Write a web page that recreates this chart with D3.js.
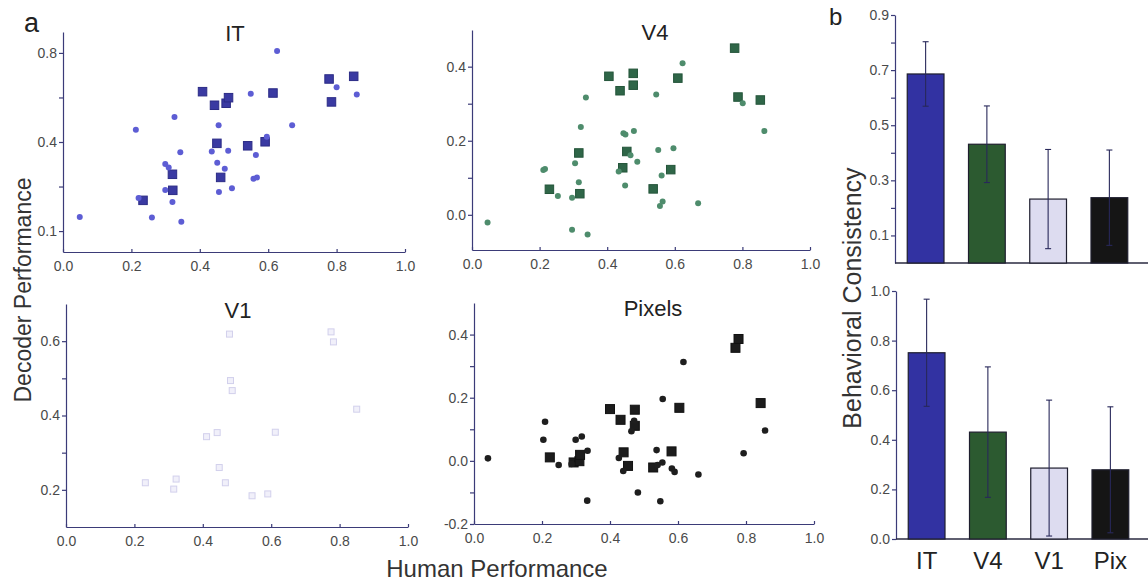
<!DOCTYPE html>
<html>
<head>
  <meta charset="UTF-8">
  <title>Decoder vs Human Performance</title>
  <style>
    body { margin: 0; background: #fff; }
    svg { font-family: "Liberation Sans", Arial, sans-serif; }
    .axis path, .axis line { stroke: #3b3b78; stroke-width: 1.2px; }
    .axis text { fill: #4a4a4a; font-size: 14px; }
    .barlabels text { fill: #222; font-size: 24px; }
  </style>
</head>
<body>
  <script src="https://d3js.org/d3.v7.min.js"></script>
  <script>
    // scatter panels: [human performance, decoder performance]
    const xTicks = [0, 0.2, 0.4, 0.6, 0.8, 1.0];

    const itDots = [[0.049,0.063],[0.213,0.455],[0.221,0.148],[0.260,0.061],[0.299,0.301],[0.309,0.286],
      [0.299,0.184],[0.320,0.130],[0.326,0.512],[0.343,0.354],[0.346,0.042],[0.435,0.357],[0.451,0.307],
      [0.455,0.475],[0.456,0.175],[0.473,0.280],[0.483,0.361],[0.494,0.192],[0.549,0.617],[0.557,0.235],
      [0.567,0.241],[0.564,0.342],[0.596,0.424],[0.626,0.809],[0.670,0.475],[0.800,0.646],[0.859,0.613]];
    const itSquares = [[0.234,0.138],[0.320,0.255],[0.321,0.183],[0.408,0.626],[0.443,0.565],[0.450,0.394],
      [0.461,0.241],[0.477,0.574],[0.484,0.599],[0.540,0.383],[0.591,0.401],[0.614,0.620],[0.778,0.683],
      [0.785,0.580],[0.850,0.695]];
    const itYTicks = [0, 0.2, 0.4, 0.6, 0.8];
    const itYLabels = ["0.1", "", "0.4", "", "0.8"];

    const v4Dots = [[0.046,-0.021],[0.211,0.121],[0.216,0.124],[0.254,0.051],[0.296,-0.040],[0.296,0.046],
      [0.305,0.139],[0.316,0.088],[0.322,0.237],[0.337,0.317],[0.342,-0.053],[0.434,0.117],[0.448,0.220],
      [0.454,0.217],[0.453,0.079],[0.469,0.161],[0.479,0.226],[0.489,0.143],[0.545,0.325],[0.551,0.175],
      [0.561,0.106],[0.556,0.024],[0.564,0.036],[0.596,0.180],[0.623,0.409],[0.669,0.031],[0.801,0.301],
      [0.865,0.226]];
    const v4Squares = [[0.229,0.069],[0.316,0.167],[0.319,0.057],[0.405,0.374],[0.438,0.335],[0.446,0.127],
      [0.458,0.171],[0.477,0.382],[0.477,0.350],[0.536,0.070],[0.588,0.122],[0.609,0.369],[0.777,0.450],
      [0.787,0.318],[0.853,0.310]];
    const v4YTicks = [0, 0.1, 0.2, 0.3, 0.4];
    const v4YLabels = ["0.0", "", "0.2", "", "0.4"];

    const v1Squares = [[0.232,0.219],[0.322,0.229],[0.315,0.202],[0.411,0.343],[0.442,0.354],[0.448,0.260],
      [0.466,0.219],[0.478,0.619],[0.481,0.494],[0.486,0.467],[0.544,0.184],[0.590,0.189],[0.612,0.355],
      [0.775,0.625],[0.782,0.598],[0.850,0.417]];
    const v1YTicks = [0.2, 0.3, 0.4, 0.5, 0.6];
    const v1YLabels = ["0.2", "", "0.4", "", "0.6"];

    const pixDots = [[0.041,0.008],[0.204,0.067],[0.209,0.124],[0.249,-0.013],[0.287,-0.010],[0.299,0.067],
      [0.317,0.077],[0.334,0.032],[0.333,-0.126],[0.426,0.009],[0.439,-0.032],[0.463,0.094],[0.471,0.127],
      [0.482,-0.100],[0.537,0.034],[0.540,-0.013],[0.554,-0.005],[0.548,-0.128],[0.555,0.196],[0.582,-0.024],
      [0.590,-0.035],[0.616,0.313],[0.660,-0.043],[0.793,0.024],[0.856,0.096]];
    const pixSquares = [[0.223,0.011],[0.293,-0.005],[0.310,-0.001],[0.312,0.019],[0.400,0.164],[0.431,0.130],
      [0.440,0.027],[0.453,-0.016],[0.473,0.162],[0.473,0.111],[0.527,-0.021],[0.581,0.030],[0.604,0.168],
      [0.769,0.358],[0.778,0.386],[0.843,0.183]];
    const pixYTicks = [-0.2, -0.1, 0, 0.1, 0.2, 0.3, 0.4];
    const pixYLabels = ["-0.2", "", "0.0", "", "0.2", "", "0.4"];

    // bar panels
    const categories = ["IT", "V4", "V1", "Pix"];
    const consistencyTop = [0.686, 0.431, 0.232, 0.237];
    const errorTop = [0.117, 0.139, 0.180, 0.173];
    const topYTicks = [0.1, 0.2, 0.3, 0.4, 0.5, 0.6, 0.7, 0.8, 0.9];
    const topYLabels = ["0.1", "", "0.3", "", "0.5", "", "0.7", "", "0.9"];
    const consistencyBottom = [0.751, 0.431, 0.286, 0.279];
    const errorBottom = [0.216, 0.263, 0.274, 0.254];
    const bottomYTicks = [0, 0.2, 0.4, 0.6, 0.8, 1.0];
    const bottomYLabels = ["0.0", "0.2", "0.4", "0.6", "0.8", "1.0"];

    const barColors = d3.scaleOrdinal().domain(categories)
      .range(["#3232a2", "#2c5a30", "#dddcf0", "#151515"]);

    const width = 1148, height = 584;
    const svg = d3.select("body").append("svg")
      .attr("width", width)
      .attr("height", height);

    // one scatter panel
    function scatter(p) {
      const x = d3.scaleLinear().domain([0, 1]).range([p.x0, p.x1]);
      const y = d3.scaleLinear().domain(p.yDomain).range([p.yBottom, p.yTop]);
      const g = svg.append("g");

      g.append("g")
        .attr("class", "axis")
        .attr("transform", `translate(0,${p.yBottom})`)
        .call(d3.axisBottom(x).tickValues(xTicks).tickSize(-3).tickSizeOuter(0)
          .tickPadding(9).tickFormat(d3.format(".1f")));

      g.append("g")
        .attr("class", "axis")
        .attr("transform", `translate(${p.x0},0)`)
        .call(d3.axisLeft(y).tickValues(p.yTicks).tickSize(4).tickSizeOuter(0)
          .tickPadding(2).tickFormat((d, i) => p.yLabels[i]));

      const s = p.sq;
      g.append("g").selectAll("rect")
        .data(p.squares)
        .join("rect")
        .attr("x", d => x(d[0]) - s / 2)
        .attr("y", d => y(d[1]) - s / 2)
        .attr("width", s)
        .attr("height", s)
        .attr("fill", p.sqFill)
        .attr("stroke", p.sqStroke)
        .attr("stroke-width", 1);

      if (p.dots) {
        g.append("g").selectAll("circle")
          .data(p.dots)
          .join("circle")
          .attr("cx", d => x(d[0]))
          .attr("cy", d => y(d[1]))
          .attr("r", p.r)
          .attr("fill", p.dotFill);
      }

      g.append("text")
        .attr("x", p.titleX)
        .attr("y", p.titleY)
        .attr("text-anchor", "middle")
        .attr("font-size", "22px")
        .attr("fill", "#222")
        .text(p.title);
    }

    scatter({ title: "IT", titleX: 235, titleY: 41, x0: 63, x1: 405, yBottom: 252, yTop: 32,
      yDomain: [-0.094, 0.894], yTicks: itYTicks, yLabels: itYLabels,
      dots: itDots, squares: itSquares, r: 3, sq: 8.5,
      dotFill: "#5d5dd4", sqFill: "#3a3aa2", sqStroke: "#2c2c86" });

    scatter({ title: "V4", titleX: 655, titleY: 40, x0: 472, x1: 810, yBottom: 250, yTop: 30,
      yDomain: [-0.095, 0.499], yTicks: v4YTicks, yLabels: v4YLabels,
      dots: v4Dots, squares: v4Squares, r: 3, sq: 8.5,
      dotFill: "#4e8c6c", sqFill: "#2f6648", sqStroke: "#24553a" });

    scatter({ title: "V1", titleX: 238, titleY: 318, x0: 66, x1: 408, yBottom: 527, yTop: 304,
      yDomain: [0.1, 0.7], yTicks: v1YTicks, yLabels: v1YLabels,
      dots: null, squares: v1Squares, sq: 6,
      sqFill: "#f1f0fa", sqStroke: "#d2d0ec" });

    scatter({ title: "Pixels", titleX: 653, titleY: 316, x0: 474, x1: 814, yBottom: 524, yTop: 303,
      yDomain: [-0.2, 0.5], yTicks: pixYTicks, yLabels: pixYLabels,
      dots: pixDots, squares: pixSquares, r: 3.3, sq: 9,
      dotFill: "#1e1e1e", sqFill: "#1c1c1c", sqStroke: "#111" });

    // one bar panel
    function bars(p) {
      const x = d3.scaleBand().domain(categories).range([p.x0, p.x0 + 245])
        .paddingInner(0.4).paddingOuter(0.2);
      const y = d3.scaleLinear().domain(p.yDomain).range([p.yBottom, p.yTop]);
      const g = svg.append("g");

      g.append("g")
        .attr("class", "axis")
        .attr("transform", `translate(${p.x0},0)`)
        .call(d3.axisLeft(y).tickValues(p.yTicks).tickSize(4).tickSizeOuter(0)
          .tickPadding(2).tickFormat((d, i) => p.yLabels[i]));

      g.append("line")
        .attr("x1", p.x0).attr("x2", width)
        .attr("y1", p.yBottom).attr("y2", p.yBottom)
        .attr("stroke", "#2a2a40").attr("stroke-width", 1.4);

      g.append("g").selectAll("rect")
        .data(categories)
        .join("rect")
        .attr("x", d => x(d))
        .attr("y", (d, i) => y(p.values[i]))
        .attr("width", x.bandwidth())
        .attr("height", (d, i) => y(0) - y(p.values[i]))
        .attr("fill", d => barColors(d))
        .attr("stroke", "#1e1e2e")
        .attr("stroke-width", 1.2);

      const err = g.append("g")
        .attr("stroke", "#28285a")
        .attr("stroke-width", 1.1);
      categories.forEach((c, i) => {
        const cx = x(c) + x.bandwidth() / 2;
        const lo = y(p.values[i] - p.errors[i]);
        const hi = y(p.values[i] + p.errors[i]);
        err.append("line").attr("x1", cx).attr("x2", cx).attr("y1", lo).attr("y2", hi);
        err.append("line").attr("x1", cx - 3).attr("x2", cx + 3).attr("y1", hi).attr("y2", hi);
        err.append("line").attr("x1", cx - 3).attr("x2", cx + 3).attr("y1", lo).attr("y2", lo);
      });

      if (p.showLabels) {
        g.append("g")
          .attr("class", "barlabels")
          .attr("transform", `translate(0,${p.yBottom})`)
          .call(d3.axisBottom(x).tickSize(0).tickPadding(13))
          .call(a => a.select(".domain").remove());
      }
    }

    bars({ x0: 895, yBottom: 263, yTop: 15, yDomain: [0, 0.9],
      yTicks: topYTicks, yLabels: topYLabels,
      values: consistencyTop, errors: errorTop, showLabels: false });

    bars({ x0: 896, yBottom: 539, yTop: 291, yDomain: [0, 1.0],
      yTicks: bottomYTicks, yLabels: bottomYLabels,
      values: consistencyBottom, errors: errorBottom, showLabels: true });

    // panel letters and shared axis titles
    svg.append("text").attr("x", 24).attr("y", 32)
      .attr("font-size", "27px").attr("fill", "#222").text("a");
    svg.append("text").attr("x", 829).attr("y", 25)
      .attr("font-size", "24px").attr("fill", "#222").text("b");

    svg.append("text")
      .attr("transform", "translate(31,290) rotate(-90)")
      .attr("text-anchor", "middle")
      .attr("font-size", "23px").attr("fill", "#333")
      .text("Decoder Performance");

    svg.append("text")
      .attr("x", 497).attr("y", 577)
      .attr("text-anchor", "middle")
      .attr("font-size", "24px").attr("fill", "#333")
      .text("Human Performance");

    svg.append("text")
      .attr("transform", "translate(861,298) rotate(-90)")
      .attr("text-anchor", "middle")
      .attr("font-size", "25px").attr("fill", "#333")
      .text("Behavioral Consistency");
  </script>
</body>
</html>
